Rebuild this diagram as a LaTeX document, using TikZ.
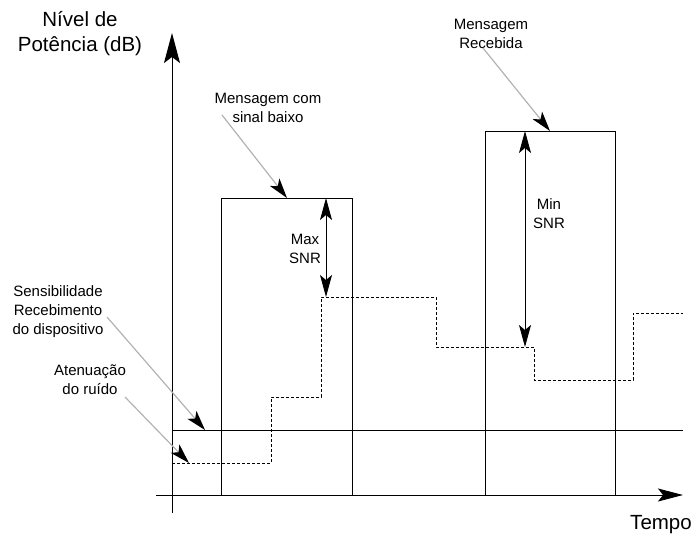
\documentclass[tikz,border=0pt]{standalone}
\usepackage{fontspec}
\setmainfont{Liberation Sans}
\usetikzlibrary{arrows.meta}
\begin{document}
\begin{tikzpicture}[x=1pt, y=-1pt, line width=1pt,
  big/.style={font=\fontsize{20.5}{25}\selectfont, align=center, inner sep=0pt},
  small/.style={font=\fontsize{15}{19}\selectfont, align=center, inner sep=0pt},
  pointer/.style={gray!60, line width=1.2pt, -{Stealth[black, length=20pt, width=12pt, inset=5pt]}},
  snr/.style={{Stealth[length=22pt, width=12pt, inset=5pt]}-{Stealth[length=22pt, width=12pt, inset=5pt]}},
  noise/.style={dash pattern=on 3pt off 2pt}]
\useasboundingbox (0,0) rectangle (699,536);
% eixos
\coordinate (origem) at (172,495);
\coordinate (ytopo) at (172,33); \coordinate (ybase) at (172,513);
\coordinate (xini) at (156,495); \coordinate (xfim) at (683,495);
\draw[-{Stealth[length=30pt, width=16pt, inset=6pt]}] (ybase) -- (ytopo);
\draw[-{Stealth[length=25pt, width=13pt, inset=5pt]}] (xini) -- (xfim);
\node[big] (nivel) at (80,34) {Nível de\\Potência (dB)};
\node[big] (tempo) at (661,525) {Tempo};
% mensagens
\draw (221,495) |- (352,198) -- (352,495);
\draw (485,495) |- (615,131) -- (615,495);
% sensibilidade e ruido
\coordinate (sens) at (205,430); \coordinate (ruido) at (189,463);
\draw (172,430) -- (683,430);
\draw[noise] (172,463) -| (271,397) -| (321,297) -| (436,347) -| (534,380) -| (633,313) -- (683,313);
% SNR
\coordinate (maxa) at (326,198); \coordinate (maxb) at (326,297);
\coordinate (mina) at (525,131); \coordinate (minb) at (525,347);
\draw[snr] (maxa) -- (maxb);
\draw[snr] (mina) -- (minb);
\node[small] (maxsnr) at (305,249) {Max\\SNR};
\node[small] (minsnr) at (549,214) {Min\\SNR};
% rotulos
\node[small] (baixo) at (268,108) {Mensagem com\\sinal baixo};
\node[small] (recebida) at (491,34) {Mensagem\\Recebida};
\node[small] (sensib) at (58,312) {Sensibilidade\\Recebimento\\do dispositivo};
\node[small] (atenua) at (90,380) {Atenuação\\do ruído};
\coordinate (baixo-p) at (222,115); \coordinate (baixo-m) at (287,198);
\coordinate (receb-p) at (483,48); \coordinate (receb-m) at (550,131);
\coordinate (sensib-p) at (107,317); \coordinate (atenua-p) at (125,397);
\draw[pointer] (baixo-p) -- (baixo-m);
\draw[pointer] (receb-p) -- (receb-m);
\draw[pointer] (sensib-p) -- (sens);
\draw[pointer] (atenua-p) -- (ruido);
\end{tikzpicture}
\end{document}
